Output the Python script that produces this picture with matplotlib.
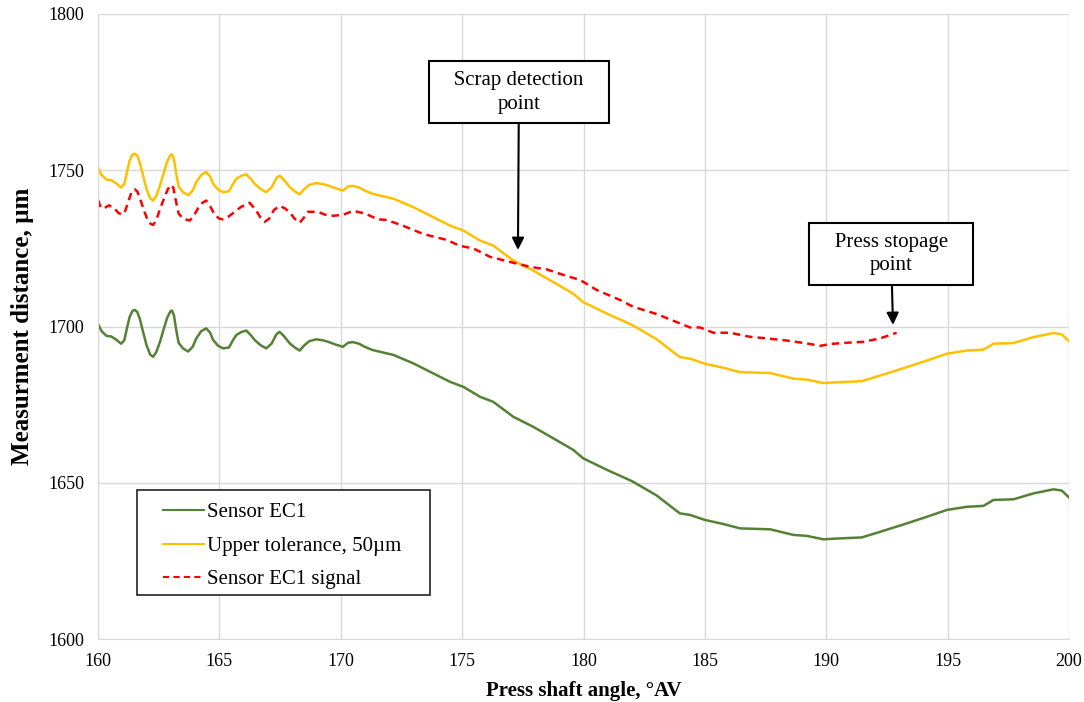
import numpy as np
from matplotlib import pyplot as plt
from matplotlib.patches import Rectangle

plt.rcParams['font.family'] = ['Liberation Serif', 'DejaVu Serif']

# Sensor EC1
angle_ec1 = [160.00, 160.15, 160.35, 160.55, 160.75, 160.95, 161.08, 161.18, 161.30, 161.42,
             161.52, 161.62, 161.72, 161.85, 162.00, 162.15, 162.27, 162.40, 162.55, 162.70,
             162.85, 162.98, 163.05, 163.13, 163.22, 163.32, 163.50, 163.71, 163.90, 164.05,
             164.25, 164.46, 164.62, 164.74, 164.95, 165.15, 165.40, 165.55, 165.70, 165.90,
             166.11, 166.30, 166.45, 166.70, 166.93, 167.15, 167.35, 167.48, 167.65, 167.90,
             168.10, 168.31, 168.50, 168.70, 168.99, 169.25, 169.48, 169.80, 170.09, 170.30,
             170.50, 170.75, 170.99, 171.30, 171.62, 172.17, 172.99, 173.81, 174.50, 175.05,
             175.74, 176.28, 177.11, 177.93, 178.76, 179.58, 179.99, 181.00, 182.00, 183.00,
             183.97, 184.39, 185.00, 185.76, 186.45, 187.69, 188.65, 189.20, 189.88, 190.57,
             191.46, 192.22, 193.32, 194.14, 194.97, 195.79, 196.48, 196.89, 197.71, 198.54,
             199.36, 199.70, 200.00]
sensor_ec1 = [1700.8, 1698.5, 1697.0, 1696.8, 1695.8, 1694.5, 1695.5, 1699.0, 1703.0, 1705.0,
              1705.3, 1704.6, 1702.5, 1698.5, 1694.0, 1691.0, 1690.3, 1691.8, 1695.0, 1699.0,
              1702.8, 1704.8, 1705.1, 1703.5, 1699.0, 1694.8, 1693.0, 1692.0, 1693.5, 1696.2,
              1698.5, 1699.4, 1698.0, 1695.7, 1693.8, 1693.0, 1693.3, 1695.5, 1697.3, 1698.2,
              1698.7, 1697.2, 1695.7, 1694.0, 1693.0, 1694.5, 1697.5, 1698.3, 1697.0, 1694.6,
              1693.3, 1692.3, 1694.0, 1695.3, 1695.9, 1695.6, 1695.1, 1694.2, 1693.5, 1694.8,
              1695.0, 1694.5, 1693.5, 1692.5, 1691.9, 1690.9, 1688.2, 1685.0, 1682.3, 1680.7,
              1677.5, 1675.9, 1671.1, 1667.9, 1664.2, 1660.5, 1657.8, 1654.0, 1650.5, 1646.0,
              1640.2, 1639.7, 1638.1, 1636.8, 1635.4, 1635.1, 1633.3, 1633.0, 1631.9, 1632.2,
              1632.5, 1634.3, 1637.0, 1639.1, 1641.3, 1642.3, 1642.6, 1644.5, 1644.7, 1646.6,
              1647.9, 1647.5, 1645.3]
TOLERANCE = 50  # upper tolerance, um

# Sensor EC1 signal
angle_sig = [160.00, 160.12, 160.25, 160.45, 160.65, 160.85, 161.00, 161.12, 161.25, 161.38,
             161.51, 161.62, 161.75, 161.90, 162.05, 162.18, 162.27, 162.40, 162.55, 162.72,
             162.88, 163.00, 163.10, 163.20, 163.32, 163.50, 163.78, 163.95, 164.12, 164.30,
             164.46, 164.62, 164.81, 165.00, 165.15, 165.40, 165.63, 165.90, 166.25, 166.50,
             166.70, 166.87, 167.05, 167.25, 167.48, 167.70, 167.90, 168.10, 168.31, 168.50,
             168.65, 169.06, 169.35, 169.61, 170.09, 170.50, 170.99, 171.53, 171.89, 172.58,
             173.40, 174.37, 174.91, 175.46, 176.15, 177.11, 177.80, 178.48, 179.17, 179.86,
             180.54, 181.50, 182.05, 183.01, 183.97, 184.39, 184.80, 185.35, 186.04, 186.86,
             187.55, 188.37, 189.20, 189.75, 190.16, 190.84, 191.53, 192.22, 192.90]
signal_ec1 = [1740.5, 1738.0, 1737.8, 1738.8, 1738.0, 1736.3, 1735.8, 1737.0, 1740.0, 1743.0,
              1743.9, 1743.2, 1740.5, 1737.0, 1734.0, 1732.8, 1732.5, 1734.0, 1737.5, 1741.0,
              1744.0, 1745.3, 1744.5, 1740.5, 1736.2, 1734.5, 1733.9, 1735.5, 1737.8, 1739.6,
              1740.3, 1738.5, 1735.7, 1734.5, 1734.3, 1735.3, 1736.7, 1738.3, 1739.6, 1737.3,
              1734.8, 1733.5, 1734.5, 1737.3, 1738.6, 1737.8, 1736.5, 1734.5, 1733.2, 1735.0,
              1736.7, 1736.7, 1735.8, 1735.4, 1735.7, 1737.0, 1736.2, 1734.3, 1734.1, 1732.2,
              1729.6, 1727.7, 1725.8, 1725.0, 1722.3, 1720.4, 1719.1, 1718.3, 1716.5, 1714.9,
              1711.7, 1708.5, 1706.3, 1704.0, 1701.0, 1699.7, 1699.7, 1698.0, 1698.0, 1696.7,
              1696.2, 1695.5, 1694.6, 1693.8, 1694.4, 1694.8, 1695.1, 1696.2, 1698.0]

x_ticks = [160, 165, 170, 175, 180, 185, 190, 195, 200]
y_ticks = [1600, 1650, 1700, 1750, 1800]

sensor_ec1 = np.array(sensor_ec1)

fig = plt.figure(figsize=(10.84, 7.02), dpi=100)
ax = fig.add_axes([98 / 1084, 63 / 702, 971 / 1084, 625 / 702])

ax.plot(angle_ec1, sensor_ec1, color='#548235', lw=1.8, label='Sensor EC1')
ax.plot(angle_ec1, sensor_ec1 + TOLERANCE, color='#ffc000', lw=1.8, label='Upper tolerance, 50µm')
ax.plot(angle_sig, signal_ec1, color='#ff0000', lw=1.8, ls=(0, (3, 2)), label='Sensor EC1 signal')

ax.set_xlim(160, 200)
ax.set_ylim(1600, 1800)
ax.set_xticks(x_ticks)
ax.set_yticks(y_ticks)
ax.grid(True, color='#d9d9d9', lw=1)
ax.set_axisbelow(True)
for s in ['top', 'right']:
    ax.spines[s].set_visible(False)
for s in ['left', 'bottom']:
    ax.spines[s].set_color('#d9d9d9')
ax.tick_params(length=0, labelsize=13, pad=10)

ax.set_xlabel('Press shaft angle, °AV', fontsize=15, fontweight='bold', labelpad=8)
ax.set_ylabel('Measurment distance, µm', fontsize=18, fontweight='bold', labelpad=10)

box = dict(boxstyle='square,pad=0.45', fc='white', ec='black', lw=1.5)
arrow = dict(arrowstyle='-|>', color='black', lw=1.5, mutation_scale=18, shrinkA=0, shrinkB=0)
ax.annotate('   Scrap detection   \npoint', xy=(177.3, 1724.5), xytext=(177.34, 1775),
            ha='center', va='center', multialignment='center', linespacing=1.35,
            fontsize=15, bbox=box, arrowprops=arrow)
ax.annotate('   Press stopage   \npoint', xy=(192.75, 1700.5), xytext=(192.67, 1723.2),
            ha='center', va='center', multialignment='center', linespacing=1.35,
            fontsize=15, bbox=box, arrowprops=arrow)

# legend frame drawn separately (wider side padding than top/bottom)
ax.add_patch(Rectangle((0.0402, 0.0704), 0.3018, 0.168, transform=ax.transAxes,
                       fc='white', ec='#222222', lw=1.2, zorder=4))
leg = ax.legend(loc='upper left', bbox_to_anchor=(0.0669, 0.218), fontsize=15,
                frameon=False, handlelength=1.95, borderpad=0, labelspacing=0.67,
                handletextpad=0.15, borderaxespad=0)
leg.set_zorder(5)
for line in leg.get_lines():
    line.set_linewidth(1.5)

fig.savefig('out.png', dpi=100)
